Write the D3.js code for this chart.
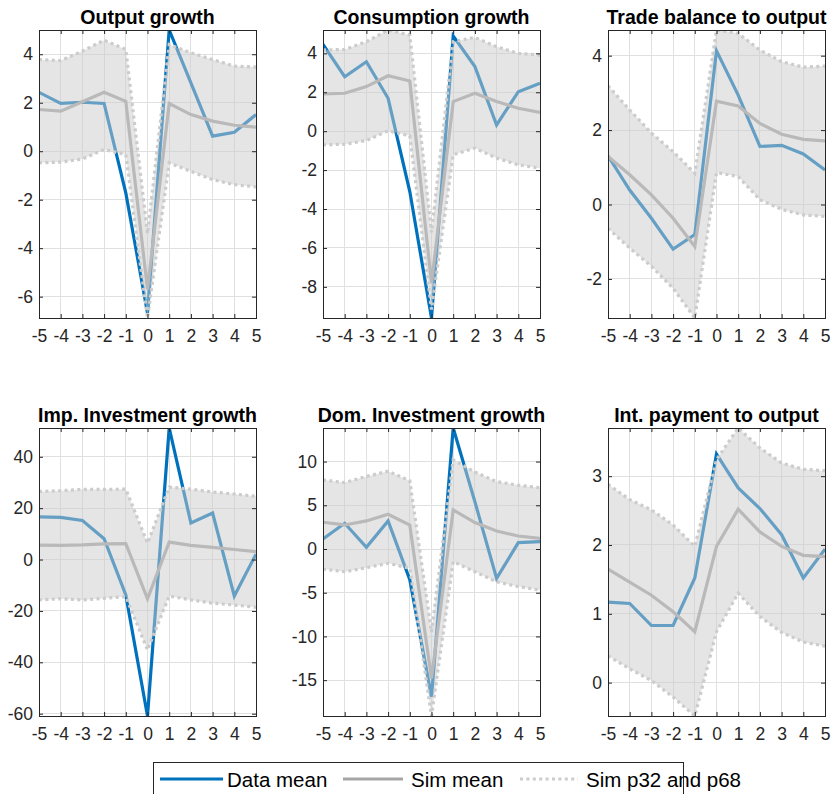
<!DOCTYPE html>
<html>
<head>
<meta charset="utf-8">
<script src="https://cdn.jsdelivr.net/npm/d3@7"></script>
<style>
  html, body { margin: 0; padding: 0; background: #fff; }
  svg { display: block; font-family: "Liberation Sans", Arial, Helvetica, sans-serif; }
</style>
</head>
<body>
<svg id="chart" width="832" height="794"></svg>
<script>
// Event-window horizons (quarters around the event)
const horizons = [-5, -4, -3, -2, -1, 0, 1, 2, 3, 4, 5];
const xTickLabels = [-5, -4, -3, -2, -1, 0, 1, 2, 3, 4, 5];

const panelTitles = [
  "Output growth",
  "Consumption growth",
  "Trade balance to output",
  "Imp. Investment growth",
  "Dom. Investment growth",
  "Int. payment to output"
];

// Mean across events in the data
const dataMean = [
  [2.43, 1.97, 2.02, 1.97, -1.72, -6.67, 5.0, 2.82, 0.62, 0.78, 1.51],
  [4.46, 2.8, 3.57, 1.69, -3.1, -9.6, 4.89, 3.32, 0.32, 2.03, 2.46],
  [1.31, 0.39, -0.37, -1.2, -0.81, 4.13, 2.94, 1.56, 1.59, 1.36, 0.93],
  [16.6, 16.4, 15.2, 8.1, -13.8, -60.9, 51.2, 14.2, 18.1, -14.2, 2.1],
  [1.15, 2.94, 0.19, 3.21, -3.5, -16.9, 13.84, 5.4, -3.36, 0.73, 0.84],
  [1.17, 1.15, 0.83, 0.83, 1.52, 3.32, 2.83, 2.53, 2.15, 1.52, 1.94]
];

// Mean across simulated events
const simMean = [
  [1.72, 1.65, 2.04, 2.43, 2.06, -5.7, 1.97, 1.51, 1.24, 1.07, 0.99],
  [1.91, 1.95, 2.29, 2.85, 2.58, -7.8, 1.52, 1.95, 1.52, 1.18, 0.97],
  [1.29, 0.8, 0.26, -0.37, -1.13, 2.78, 2.65, 2.18, 1.89, 1.75, 1.71],
  [5.6, 5.5, 5.7, 6.1, 6.2, -15.3, 6.8, 5.5, 4.7, 3.9, 3.1],
  [3.06, 2.75, 3.21, 3.98, 2.75, -14.8, 4.47, 3.02, 2.06, 1.49, 1.22],
  [1.65, 1.46, 1.27, 1.03, 0.74, 1.98, 2.52, 2.19, 1.98, 1.85, 1.83]
];

// 68th percentile of simulated events
const simP68 = [
  [3.78, 3.74, 4.13, 4.58, 4.2, -3.4, 4.4, 4.06, 3.78, 3.51, 3.47],
  [4.17, 4.2, 4.6, 5.2, 4.94, -5.2, 4.6, 4.82, 4.34, 4.0, 3.91],
  [3.19, 2.54, 1.92, 1.42, 0.84, 4.69, 4.6, 4.15, 3.84, 3.69, 3.72],
  [26.5, 26.8, 27.3, 27.3, 27.4, 6.4, 28.2, 27.4, 26.3, 25.5, 24.6],
  [7.9, 7.6, 8.3, 8.9, 7.8, -9.5, 10.2, 8.8, 7.7, 7.3, 7.0],
  [2.88, 2.66, 2.51, 2.29, 1.98, 3.24, 3.70, 3.41, 3.19, 3.1, 3.08]
];

// 32nd percentile of simulated events
const simP32 = [
  [-0.48, -0.45, -0.32, 0.07, -0.14, -6.88, -0.48, -0.83, -1.17, -1.38, -1.47],
  [-0.7, -0.67, -0.48, 0.02, -0.24, -9.16, -1.21, -0.87, -1.38, -1.73, -1.9],
  [-0.64, -1.17, -1.66, -2.25, -3.05, 0.86, 0.75, 0.13, -0.13, -0.28, -0.32],
  [-15.7, -15.3, -15.7, -15.1, -14.4, -35.2, -14.2, -15.7, -17.0, -17.7, -18.6],
  [-2.3, -2.6, -2.14, -1.64, -2.2, -19.1, -1.45, -2.6, -3.75, -4.3, -4.7],
  [0.39, 0.2, 0.03, -0.21, -0.485, 0.74, 1.3, 0.96, 0.73, 0.59, 0.53]
];

const yTickValues = [
  [-6, -4, -2, 0, 2, 4],
  [-8, -6, -4, -2, 0, 2, 4],
  [-2, 0, 2, 4],
  [-60, -40, -20, 0, 20, 40],
  [-15, -10, -5, 0, 5, 10],
  [0, 1, 2, 3]
];

const legendLabels = ["Data mean", "Sim mean", "Sim p32 and p68"];

// ---- layout & style ----
const colLeft = [39, 323, 608];
const rowTop = [30, 428];
const axW = 217, axH = 288;
const blue = "#0072BD";
const simGray = "#a6a6a6";
const bandFill = "rgba(204,204,204,0.5)";
const dotGray = "#cccccc";
const axisColor = "#262626";
const gridColor = "#e0e0e0";
const tickLen = 4;
const tickFont = 17.5;
const fmt = d => String(d); // plain hyphen-minus labels

const svg = d3.select("#chart");

panelTitles.forEach((title, i) => {
  const left = colLeft[i % 3];
  const top = rowTop[Math.floor(i / 3)];

  const allVals = [].concat(dataMean[i], simMean[i], simP68[i], simP32[i]);
  const x = d3.scaleLinear().domain(d3.extent(horizons)).range([0, axW]);
  const y = d3.scaleLinear().domain(d3.extent(allVals)).range([axH, 0]);

  const g = svg.append("g").attr("transform", `translate(${left},${top})`);

  const clipId = "clip" + i;
  g.append("clipPath").attr("id", clipId)
    .append("rect").attr("x", 0).attr("y", 0).attr("width", axW).attr("height", axH);

  // grid
  const grid = g.append("g");
  grid.selectAll("line.gx").data(xTickLabels).join("line")
    .attr("x1", d => x(d)).attr("x2", d => x(d))
    .attr("y1", 0).attr("y2", axH)
    .attr("stroke", gridColor).attr("stroke-width", 1)
    .attr("shape-rendering", "crispEdges");
  grid.selectAll("line.gy").data(yTickValues[i]).join("line")
    .attr("x1", 0).attr("x2", axW)
    .attr("y1", d => y(d)).attr("y2", d => y(d))
    .attr("stroke", gridColor).attr("stroke-width", 1)
    .attr("shape-rendering", "crispEdges");

  const plot = g.append("g").attr("clip-path", `url(#${clipId})`);

  const line = d3.line().x((d, k) => x(horizons[k])).y(d => y(d));
  const area = d3.area()
    .x((d, k) => x(horizons[k]))
    .y0((d, k) => y(simP32[i][k]))
    .y1(d => y(d));

  plot.append("path").datum(dataMean[i])
    .attr("d", line).attr("fill", "none")
    .attr("stroke", blue).attr("stroke-width", 3.2)
    .attr("stroke-linejoin", "miter").attr("stroke-miterlimit", 6);

  plot.append("path").datum(simMean[i])
    .attr("d", line).attr("fill", "none")
    .attr("stroke", simGray).attr("stroke-width", 3.2)
    .attr("stroke-linejoin", "miter").attr("stroke-miterlimit", 6);

  plot.append("path").datum(simP68[i])
    .attr("d", area).attr("fill", bandFill).attr("stroke", "none");

  [simP68[i], simP32[i]].forEach(series => {
    plot.append("path").datum(series)
      .attr("d", line).attr("fill", "none")
      .attr("stroke", dotGray).attr("stroke-width", 3.2)
      .attr("stroke-dasharray", "3,3.4");
  });

  // axes box
  g.append("rect").attr("x", 0.5).attr("y", 0.5)
    .attr("width", axW).attr("height", axH)
    .attr("fill", "none").attr("stroke", axisColor).attr("stroke-width", 1)
    .attr("shape-rendering", "crispEdges");

  // x axis (bottom) with inward ticks, plus mirrored top ticks
  const xAxis = d3.axisBottom(x).tickValues(xTickLabels).tickFormat(fmt)
    .tickSizeInner(-tickLen).tickSizeOuter(0).tickPadding(11.5);
  const gx = g.append("g").attr("transform", `translate(0,${axH})`).call(xAxis);
  gx.select(".domain").remove();
  gx.selectAll(".tick line").attr("stroke", axisColor);
  gx.selectAll(".tick text").attr("fill", axisColor)
    .attr("font-size", tickFont).attr("font-family", "Liberation Sans, Arial, sans-serif");

  const xTop = d3.axisTop(x).tickValues(xTickLabels).tickFormat("")
    .tickSizeInner(-tickLen).tickSizeOuter(0);
  const gxt = g.append("g").call(xTop);
  gxt.select(".domain").remove();
  gxt.selectAll(".tick line").attr("stroke", axisColor);

  // y axis (left) with inward ticks, plus mirrored right ticks
  const yAxis = d3.axisLeft(y).tickValues(yTickValues[i]).tickFormat(fmt)
    .tickSizeInner(-tickLen).tickSizeOuter(0).tickPadding(6);
  const gy = g.append("g").call(yAxis);
  gy.select(".domain").remove();
  gy.selectAll(".tick line").attr("stroke", axisColor);
  gy.selectAll(".tick text").attr("fill", axisColor)
    .attr("font-size", tickFont).attr("font-family", "Liberation Sans, Arial, sans-serif");

  const yRight = d3.axisRight(y).tickValues(yTickValues[i]).tickFormat("")
    .tickSizeInner(-tickLen).tickSizeOuter(0);
  const gyr = g.append("g").attr("transform", `translate(${axW},0)`).call(yRight);
  gyr.select(".domain").remove();
  gyr.selectAll(".tick line").attr("stroke", axisColor);

  // title
  g.append("text")
    .attr("x", axW / 2).attr("y", -6)
    .attr("text-anchor", "middle")
    .attr("font-size", 19.5).attr("font-weight", "bold")
    .attr("fill", "#000")
    .text(title);
});

// ---- legend ----
const leg = svg.append("g");
leg.append("rect").attr("x", 153.5).attr("y", 762.5)
  .attr("width", 530).attr("height", 40)
  .attr("fill", "#fff").attr("stroke", axisColor).attr("stroke-width", 1);

const legItems = [
  { label: legendLabels[0], x0: 160, x1: 223, tx: 227, color: blue, dash: null },
  { label: legendLabels[1], x0: 343, x1: 403, tx: 411, color: simGray, dash: null },
  { label: legendLabels[2], x0: 520, x1: 578, tx: 586, color: dotGray, dash: "3,3.4" }
];
legItems.forEach(it => {
  const ln = leg.append("line")
    .attr("x1", it.x0).attr("x2", it.x1).attr("y1", 779).attr("y2", 779)
    .attr("stroke", it.color).attr("stroke-width", 3.2);
  if (it.dash) ln.attr("stroke-dasharray", it.dash);
  leg.append("text").attr("x", it.tx).attr("y", 786.5)
    .attr("font-size", 20.5).attr("fill", "#000").text(it.label);
});
</script>
</body>
</html>
